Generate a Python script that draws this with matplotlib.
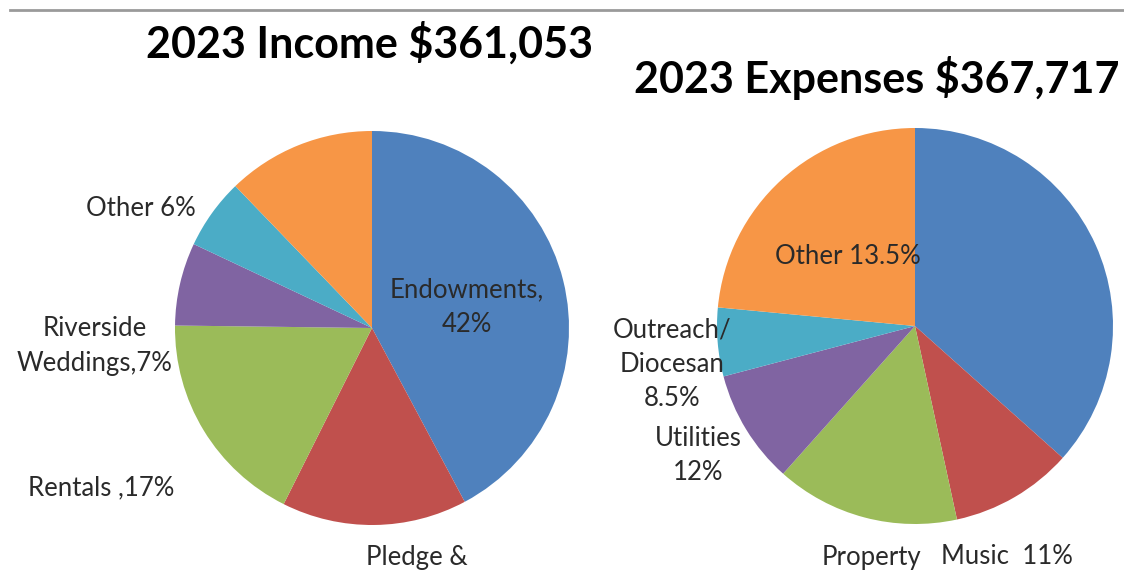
import matplotlib
matplotlib.use("Agg")
import matplotlib.pyplot as plt
from matplotlib.lines import Line2D

# ---- data ----
income_categories = ["Endowments", "Pledge & Giving", "Rentals", "Riverside Weddings", "Other", "Misc"]
income_values = [42.2, 15.2, 17.8, 6.8, 5.8, 12.2]
expense_categories = ["Salaries", "Music", "Property", "Utilities", "Outreach/Diocesan", "Other"]
expense_values = [36.6, 10.0, 15.0, 9.3, 5.6, 23.5]
colors = ["#4F81BD", "#C0504D", "#9BBB59", "#8064A2", "#4BACC6", "#F79646"]
income_title = "2023 Income $361,053"
expense_title = "2023 Expenses $367,717"

W, H = 1124, 581
fig = plt.figure(figsize=(W / 100, H / 100), dpi=100)
ax = fig.add_axes([0, 0, 1, 1])
ax.set_xlim(0, W)
ax.set_ylim(0, H)
ax.set_aspect("equal")
ax.axis("off")

FONT = "Lato"

def py(y):
    return H - y

ax.pie(income_values, colors=colors, startangle=90, counterclock=False,
       center=(372, py(328)), radius=197, frame=True,
       wedgeprops=dict(linewidth=0))
ax.pie(expense_values, colors=colors, startangle=90, counterclock=False,
       center=(915, py(326)), radius=198, frame=True,
       wedgeprops=dict(linewidth=0))
ax.set_xlim(0, W)
ax.set_ylim(0, H)
ax.axis("off")

# top rule
fig.add_artist(Line2D([10 / W, 1.0], [py(10) / H, py(10) / H], color="#9a9a9a", lw=2))

tkw = dict(fontfamily=FONT, fontweight="bold", color="black", fontsize=31)
ax.text(370, py(43), income_title, ha="center", va="center", **tkw)
ax.text(877, py(78), expense_title, ha="center", va="center", **tkw)

lkw = dict(fontfamily=FONT, color="#2a2a2a", fontsize=18.5, linespacing=1.45)
ax.text(141, py(208), "Other 6%", ha="center", va="center", **lkw)
ax.text(95, py(346), "Riverside\nWeddings,7%", ha="center", va="center", multialignment="center", **lkw)
ax.text(101, py(488), "Rentals ,17%", ha="center", va="center", **lkw)
ax.text(467, py(307), "Endowments,\n42%", ha="center", va="center", multialignment="center", **lkw)
ax.text(417, py(557), "Pledge &", ha="center", va="center", **lkw)
ax.text(848, py(257), "Other 13.5%", ha="center", va="center", **lkw)
ax.text(672, py(364), "Outreach/\nDiocesan\n8.5%", ha="center", va="center", multialignment="center", **lkw)
ax.text(698, py(455), "Utilities\n12%", ha="center", va="center", multialignment="center", **lkw)
ax.text(871, py(557), "Property", ha="center", va="center", **lkw)
ax.text(1007, py(557), "Music  11%", ha="center", va="center", **lkw)

fig.savefig("out.png", dpi=100)
